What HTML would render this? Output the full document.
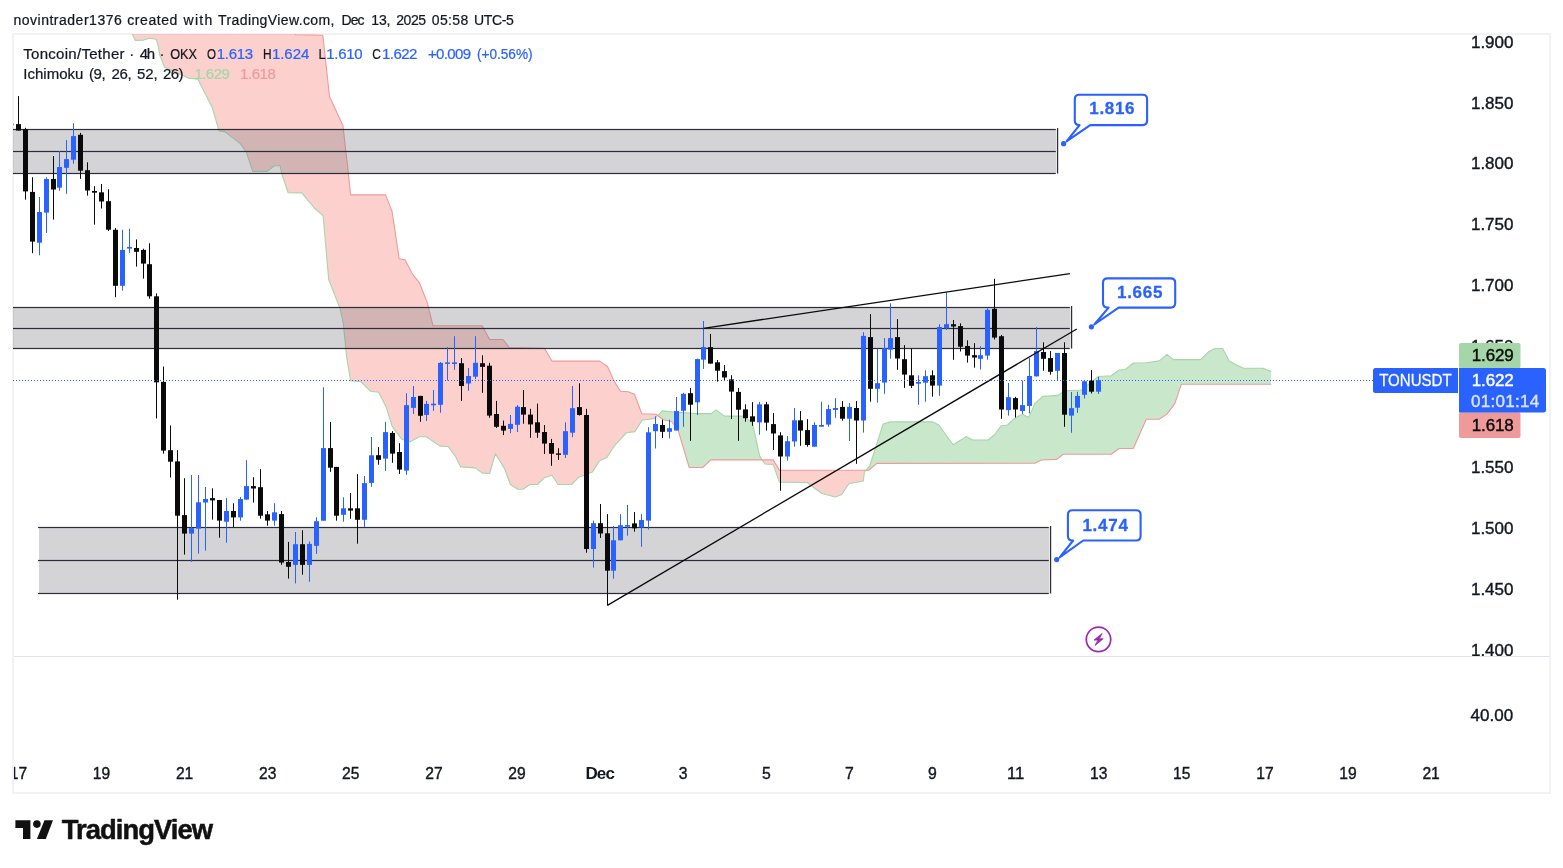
<!DOCTYPE html>
<html lang="en">
<head>
<meta charset="utf-8">
<title>TONUSDT chart</title>
<style>
html,body{margin:0;padding:0;background:#fff;}
body{width:1563px;height:868px;overflow:hidden;font-family:"Liberation Sans",sans-serif;}
svg{display:block;}
</style>
</head>
<body>
<svg width="1563" height="868" viewBox="0 0 1563 868">
<defs>
<clipPath id="pane"><rect x="13" y="34" width="1446" height="622"/></clipPath>
<clipPath id="paneFull"><rect x="13" y="34" width="1536" height="622"/></clipPath>
<clipPath id="aboveA"><polygon points="130.5,-200.0 130.5,30.0 132.3,34.3 135.4,40.4 143.0,40.2 149.2,38.2 156.1,39.2 157.8,44.4 159.9,55.2 164.6,67.3 188.4,78.1 197.8,79.1 212.3,107.8 219.1,131.0 224.7,131.6 240.3,143.6 246.5,152.4 252.7,171.4 267.2,171.4 274.5,165.8 280.1,165.8 282.2,175.2 288.2,192.8 301.8,192.9 314.2,208.0 323.1,215.7 328.7,279.5 340.1,308.6 343.3,323.1 346.6,357.0 350.7,380.8 361.1,381.8 370.4,391.2 378.7,392.2 386.0,406.7 392.2,426.4 401.5,438.9 409.8,442.0 419.2,436.8 426.4,436.8 439.9,446.1 448.2,446.5 455.5,456.5 460.7,466.9 475.2,467.9 482.4,473.1 489.7,473.5 495.3,453.8 504.2,467.9 510.4,484.5 517.7,489.3 522.9,489.3 530.1,484.5 537.4,484.5 544.6,477.7 551.9,475.2 558.1,484.5 571.6,484.5 578.9,477.2 592.3,472.1 599.6,460.7 606.9,457.5 614.1,446.1 626.6,432.7 634.9,431.6 642.1,420.2 655.0,418.4 662.2,410.9 676.7,412.2 697.5,413.6 711.0,413.6 716.1,409.9 724.4,416.1 743.1,416.1 752.4,423.0 759.7,456.1 764.9,464.0 773.2,464.4 779.4,482.1 807.4,482.5 814.6,488.3 821.9,493.5 835.4,497.0 841.6,494.5 848.9,483.7 863.4,481.0 864.4,471.7 869.6,466.5 876.9,443.7 883.1,424.0 890.3,421.9 932.4,421.8 938.9,425.0 953.1,444.7 966.1,436.6 972.6,440.0 988.1,440.0 994.6,434.8 1001.1,425.7 1007.6,425.0 1014.1,418.7 1021.8,414.1 1028.8,417.4 1034.8,403.7 1042.6,396.4 1058.1,395.4 1064.6,390.7 1081.5,390.0 1098.3,376.5 1111.3,375.7 1119.1,370.0 1125.5,369.5 1133.3,363.0 1146.3,362.7 1159.2,360.9 1167.0,354.4 1173.5,359.6 1200.7,359.6 1208.5,351.8 1215.0,348.5 1222.7,348.5 1229.2,360.9 1237.0,365.3 1243.5,368.2 1262.9,368.2 1271.3,371.6 1271.3,-200.0"/></clipPath>
<clipPath id="belowA"><polygon points="130.5,1200.0 130.5,30.0 132.3,34.3 135.4,40.4 143.0,40.2 149.2,38.2 156.1,39.2 157.8,44.4 159.9,55.2 164.6,67.3 188.4,78.1 197.8,79.1 212.3,107.8 219.1,131.0 224.7,131.6 240.3,143.6 246.5,152.4 252.7,171.4 267.2,171.4 274.5,165.8 280.1,165.8 282.2,175.2 288.2,192.8 301.8,192.9 314.2,208.0 323.1,215.7 328.7,279.5 340.1,308.6 343.3,323.1 346.6,357.0 350.7,380.8 361.1,381.8 370.4,391.2 378.7,392.2 386.0,406.7 392.2,426.4 401.5,438.9 409.8,442.0 419.2,436.8 426.4,436.8 439.9,446.1 448.2,446.5 455.5,456.5 460.7,466.9 475.2,467.9 482.4,473.1 489.7,473.5 495.3,453.8 504.2,467.9 510.4,484.5 517.7,489.3 522.9,489.3 530.1,484.5 537.4,484.5 544.6,477.7 551.9,475.2 558.1,484.5 571.6,484.5 578.9,477.2 592.3,472.1 599.6,460.7 606.9,457.5 614.1,446.1 626.6,432.7 634.9,431.6 642.1,420.2 655.0,418.4 662.2,410.9 676.7,412.2 697.5,413.6 711.0,413.6 716.1,409.9 724.4,416.1 743.1,416.1 752.4,423.0 759.7,456.1 764.9,464.0 773.2,464.4 779.4,482.1 807.4,482.5 814.6,488.3 821.9,493.5 835.4,497.0 841.6,494.5 848.9,483.7 863.4,481.0 864.4,471.7 869.6,466.5 876.9,443.7 883.1,424.0 890.3,421.9 932.4,421.8 938.9,425.0 953.1,444.7 966.1,436.6 972.6,440.0 988.1,440.0 994.6,434.8 1001.1,425.7 1007.6,425.0 1014.1,418.7 1021.8,414.1 1028.8,417.4 1034.8,403.7 1042.6,396.4 1058.1,395.4 1064.6,390.7 1081.5,390.0 1098.3,376.5 1111.3,375.7 1119.1,370.0 1125.5,369.5 1133.3,363.0 1146.3,362.7 1159.2,360.9 1167.0,354.4 1173.5,359.6 1200.7,359.6 1208.5,351.8 1215.0,348.5 1222.7,348.5 1229.2,360.9 1237.0,365.3 1243.5,368.2 1262.9,368.2 1271.3,371.6 1271.3,1200.0"/></clipPath>
</defs>
<rect x="0" y="0" width="1563" height="868" fill="#ffffff"/>
<g id="frame" fill="#f2f2f3">
<rect x="12" y="33" width="1539" height="2"/>
<rect x="12" y="792" width="1539" height="2"/>
<rect x="12" y="33" width="2" height="761"/>
<rect x="1549" y="33" width="2" height="761"/>
</g>
<rect x="14" y="656" width="1535" height="1" fill="#e0e3eb"/>
<g id="plot" clip-path="url(#pane)">
<g id="cloud">
<g clip-path="url(#belowA)"><polygon points="100.0,-40.0 291.0,-40.0 295.2,34.6 322.8,35.2 329.5,96.4 342.9,125.4 348.1,171.0 350.6,194.9 385.6,194.9 392.0,211.1 399.2,258.8 405.0,259.8 412.7,274.4 419.4,282.7 427.2,302.4 433.0,325.8 482.2,325.8 489.6,339.5 503.0,339.5 509.3,347.6 544.5,348.2 551.9,361.1 599.6,361.1 607.5,366.5 613.8,380.6 620.5,391.3 628.3,391.8 634.5,394.3 641.8,413.8 656.0,414.2 663.3,419.8 671.5,421.5 677.8,429.2 689.2,467.5 702.7,467.5 711.0,459.9 773.2,459.9 779.4,470.2 868.6,470.2 876.9,463.4 1034.8,463.3 1041.3,460.0 1056.8,459.4 1063.3,454.2 1111.3,454.2 1119.1,448.5 1133.3,448.5 1146.3,419.2 1159.2,419.2 1167.0,414.1 1174.8,403.7 1181.3,384.3 1271.3,384.3 1271.3,-200.0 100.0,-200.0" fill="#4caf50" fill-opacity="0.3"/></g>
<g clip-path="url(#aboveA)"><polygon points="100.0,-40.0 291.0,-40.0 295.2,34.6 322.8,35.2 329.5,96.4 342.9,125.4 348.1,171.0 350.6,194.9 385.6,194.9 392.0,211.1 399.2,258.8 405.0,259.8 412.7,274.4 419.4,282.7 427.2,302.4 433.0,325.8 482.2,325.8 489.6,339.5 503.0,339.5 509.3,347.6 544.5,348.2 551.9,361.1 599.6,361.1 607.5,366.5 613.8,380.6 620.5,391.3 628.3,391.8 634.5,394.3 641.8,413.8 656.0,414.2 663.3,419.8 671.5,421.5 677.8,429.2 689.2,467.5 702.7,467.5 711.0,459.9 773.2,459.9 779.4,470.2 868.6,470.2 876.9,463.4 1034.8,463.3 1041.3,460.0 1056.8,459.4 1063.3,454.2 1111.3,454.2 1119.1,448.5 1133.3,448.5 1146.3,419.2 1159.2,419.2 1167.0,414.1 1174.8,403.7 1181.3,384.3 1271.3,384.3 1271.3,1200.0 100.0,1200.0" fill="#f44336" fill-opacity="0.25"/></g>
<polyline points="130.5,30.0 132.3,34.3 135.4,40.4 143.0,40.2 149.2,38.2 156.1,39.2 157.8,44.4 159.9,55.2 164.6,67.3 188.4,78.1 197.8,79.1 212.3,107.8 219.1,131.0 224.7,131.6 240.3,143.6 246.5,152.4 252.7,171.4 267.2,171.4 274.5,165.8 280.1,165.8 282.2,175.2 288.2,192.8 301.8,192.9 314.2,208.0 323.1,215.7 328.7,279.5 340.1,308.6 343.3,323.1 346.6,357.0 350.7,380.8 361.1,381.8 370.4,391.2 378.7,392.2 386.0,406.7 392.2,426.4 401.5,438.9 409.8,442.0 419.2,436.8 426.4,436.8 439.9,446.1 448.2,446.5 455.5,456.5 460.7,466.9 475.2,467.9 482.4,473.1 489.7,473.5 495.3,453.8 504.2,467.9 510.4,484.5 517.7,489.3 522.9,489.3 530.1,484.5 537.4,484.5 544.6,477.7 551.9,475.2 558.1,484.5 571.6,484.5 578.9,477.2 592.3,472.1 599.6,460.7 606.9,457.5 614.1,446.1 626.6,432.7 634.9,431.6 642.1,420.2 655.0,418.4 662.2,410.9 676.7,412.2 697.5,413.6 711.0,413.6 716.1,409.9 724.4,416.1 743.1,416.1 752.4,423.0 759.7,456.1 764.9,464.0 773.2,464.4 779.4,482.1 807.4,482.5 814.6,488.3 821.9,493.5 835.4,497.0 841.6,494.5 848.9,483.7 863.4,481.0 864.4,471.7 869.6,466.5 876.9,443.7 883.1,424.0 890.3,421.9 932.4,421.8 938.9,425.0 953.1,444.7 966.1,436.6 972.6,440.0 988.1,440.0 994.6,434.8 1001.1,425.7 1007.6,425.0 1014.1,418.7 1021.8,414.1 1028.8,417.4 1034.8,403.7 1042.6,396.4 1058.1,395.4 1064.6,390.7 1081.5,390.0 1098.3,376.5 1111.3,375.7 1119.1,370.0 1125.5,369.5 1133.3,363.0 1146.3,362.7 1159.2,360.9 1167.0,354.4 1173.5,359.6 1200.7,359.6 1208.5,351.8 1215.0,348.5 1222.7,348.5 1229.2,360.9 1237.0,365.3 1243.5,368.2 1262.9,368.2 1271.3,371.6" fill="none" stroke="#a5d6a7" stroke-width="1.1" stroke-linejoin="round"/>
<polyline points="100.0,-40.0 291.0,-40.0 295.2,34.6 322.8,35.2 329.5,96.4 342.9,125.4 348.1,171.0 350.6,194.9 385.6,194.9 392.0,211.1 399.2,258.8 405.0,259.8 412.7,274.4 419.4,282.7 427.2,302.4 433.0,325.8 482.2,325.8 489.6,339.5 503.0,339.5 509.3,347.6 544.5,348.2 551.9,361.1 599.6,361.1 607.5,366.5 613.8,380.6 620.5,391.3 628.3,391.8 634.5,394.3 641.8,413.8 656.0,414.2 663.3,419.8 671.5,421.5 677.8,429.2 689.2,467.5 702.7,467.5 711.0,459.9 773.2,459.9 779.4,470.2 868.6,470.2 876.9,463.4 1034.8,463.3 1041.3,460.0 1056.8,459.4 1063.3,454.2 1111.3,454.2 1119.1,448.5 1133.3,448.5 1146.3,419.2 1159.2,419.2 1167.0,414.1 1174.8,403.7 1181.3,384.3 1271.3,384.3" fill="none" stroke="#ef9a9a" stroke-width="1.1" stroke-linejoin="round"/>
</g>
<g id="zones">
<rect x="1" y="129" width="1055.5" height="44" fill="#7d7d83" fill-opacity="0.33"/>
<rect x="0" y="128.90" width="1055.8" height="1.2" fill="#2a2e39"/>
<rect x="0" y="150.90" width="1055.8" height="1.2" fill="#2a2e39"/>
<rect x="0" y="172.90" width="1055.8" height="1.2" fill="#2a2e39"/>
<rect x="1057" y="128" width="1.2" height="45.5" fill="#2a2e39"/>
<rect x="1" y="307" width="1069.5" height="41" fill="#7d7d83" fill-opacity="0.33"/>
<rect x="0" y="306.90" width="1069.8" height="1.2" fill="#2a2e39"/>
<rect x="0" y="327.90" width="1069.8" height="1.2" fill="#2a2e39"/>
<rect x="0" y="347.90" width="1069.8" height="1.2" fill="#2a2e39"/>
<rect x="1071" y="306" width="1.2" height="42.5" fill="#2a2e39"/>
<rect x="39" y="527" width="1010.5" height="66" fill="#7d7d83" fill-opacity="0.33"/>
<rect x="38" y="526.90" width="1010.8" height="1.2" fill="#2a2e39"/>
<rect x="38" y="559.90" width="1010.8" height="1.2" fill="#2a2e39"/>
<rect x="38" y="592.90" width="1010.8" height="1.2" fill="#2a2e39"/>
<rect x="1050" y="526" width="1.2" height="67.5" fill="#2a2e39"/>
</g>
<g id="candles">
<rect x="13" y="123.6" width="1" height="1.6" fill="#2962ff" fill-opacity="0.7"/>
<rect x="18" y="96.1" width="1" height="34.5" fill="#0a0a0a"/><rect x="16" y="124.1" width="5" height="6.5" fill="#0a0a0a"/>
<rect x="25" y="127.8" width="1" height="71.9" fill="#0a0a0a"/><rect x="23" y="129.1" width="5" height="62.3" fill="#0a0a0a"/>
<rect x="32" y="177.2" width="1" height="76.0" fill="#0a0a0a"/><rect x="30" y="191.9" width="5" height="49.7" fill="#0a0a0a"/>
<rect x="39" y="197.0" width="1" height="58.3" fill="#2962ff"/><rect x="37" y="212.0" width="5" height="30.7" fill="#2962ff"/>
<rect x="46" y="177.2" width="1" height="55.7" fill="#2962ff"/><rect x="44" y="179.0" width="5" height="33.6" fill="#2962ff"/>
<rect x="53" y="156.0" width="1" height="63.6" fill="#0a0a0a"/><rect x="51" y="179.0" width="5" height="10.5" fill="#0a0a0a"/>
<rect x="59" y="151.2" width="1" height="39.6" fill="#2962ff"/><rect x="57" y="167.0" width="5" height="20.7" fill="#2962ff"/>
<rect x="66" y="140.1" width="1" height="53.7" fill="#2962ff"/><rect x="64" y="159.1" width="5" height="8.7" fill="#2962ff"/>
<rect x="73" y="123.2" width="1" height="40.5" fill="#2962ff"/><rect x="71" y="136.1" width="5" height="23.6" fill="#2962ff"/>
<rect x="80" y="132.9" width="1" height="45.9" fill="#0a0a0a"/><rect x="78" y="134.8" width="5" height="35.9" fill="#0a0a0a"/>
<rect x="87" y="162.3" width="1" height="33.3" fill="#0a0a0a"/><rect x="85" y="170.2" width="5" height="20.3" fill="#0a0a0a"/>
<rect x="94" y="186.2" width="1" height="38.4" fill="#0a0a0a"/><rect x="92" y="191.0" width="5" height="1.7" fill="#0a0a0a"/>
<rect x="101" y="184.0" width="1" height="24.5" fill="#0a0a0a"/><rect x="99" y="192.3" width="5" height="9.2" fill="#0a0a0a"/>
<rect x="108" y="189.2" width="1" height="41.8" fill="#0a0a0a"/><rect x="106" y="201.2" width="5" height="28.5" fill="#0a0a0a"/>
<rect x="115" y="228.0" width="1" height="69.2" fill="#0a0a0a"/><rect x="113" y="229.8" width="5" height="56.0" fill="#0a0a0a"/>
<rect x="122" y="229.8" width="1" height="60.8" fill="#2962ff"/><rect x="120" y="249.9" width="5" height="35.9" fill="#2962ff"/>
<rect x="129" y="228.9" width="1" height="24.0" fill="#2962ff"/><rect x="127" y="246.9" width="5" height="1.7" fill="#2962ff"/>
<rect x="136" y="239.4" width="1" height="27.2" fill="#0a0a0a"/><rect x="134" y="248.0" width="5" height="3.8" fill="#0a0a0a"/>
<rect x="143" y="248.7" width="1" height="29.9" fill="#0a0a0a"/><rect x="141" y="249.9" width="5" height="13.7" fill="#0a0a0a"/>
<rect x="149" y="243.3" width="1" height="55.4" fill="#0a0a0a"/><rect x="147" y="264.2" width="5" height="32.1" fill="#0a0a0a"/>
<rect x="156" y="293.3" width="1" height="125.1" fill="#0a0a0a"/><rect x="154" y="296.3" width="5" height="86.0" fill="#0a0a0a"/>
<rect x="163" y="366.5" width="1" height="87.1" fill="#0a0a0a"/><rect x="161" y="381.9" width="5" height="68.7" fill="#0a0a0a"/>
<rect x="170" y="425.5" width="1" height="52.0" fill="#0a0a0a"/><rect x="168" y="450.2" width="5" height="11.5" fill="#0a0a0a"/>
<rect x="177" y="450.2" width="1" height="149.5" fill="#0a0a0a"/><rect x="175" y="461.4" width="5" height="54.3" fill="#0a0a0a"/>
<rect x="184" y="478.2" width="1" height="76.4" fill="#0a0a0a"/><rect x="182" y="515.1" width="5" height="18.5" fill="#0a0a0a"/>
<rect x="191" y="475.0" width="1" height="86.8" fill="#2962ff"/><rect x="189" y="528.1" width="5" height="5.5" fill="#2962ff"/>
<rect x="198" y="475.0" width="1" height="78.6" fill="#2962ff"/><rect x="196" y="502.3" width="5" height="26.3" fill="#2962ff"/>
<rect x="205" y="487.0" width="1" height="63.6" fill="#2962ff"/><rect x="203" y="499.0" width="5" height="3.5" fill="#2962ff"/>
<rect x="212" y="488.3" width="1" height="31.3" fill="#0a0a0a"/><rect x="210" y="498.1" width="5" height="2.3" fill="#0a0a0a"/>
<rect x="219" y="499.9" width="1" height="37.8" fill="#0a0a0a"/><rect x="217" y="500.0" width="5" height="20.6" fill="#0a0a0a"/>
<rect x="226" y="498.1" width="1" height="44.6" fill="#2962ff"/><rect x="224" y="511.0" width="5" height="10.7" fill="#2962ff"/>
<rect x="233" y="503.3" width="1" height="23.7" fill="#0a0a0a"/><rect x="231" y="511.0" width="5" height="6.4" fill="#0a0a0a"/>
<rect x="240" y="497.1" width="1" height="23.6" fill="#2962ff"/><rect x="238" y="499.0" width="5" height="18.4" fill="#2962ff"/>
<rect x="246" y="460.2" width="1" height="39.4" fill="#2962ff"/><rect x="244" y="486.1" width="5" height="13.5" fill="#2962ff"/>
<rect x="253" y="477.2" width="1" height="25.3" fill="#0a0a0a"/><rect x="251" y="486.1" width="5" height="2.4" fill="#0a0a0a"/>
<rect x="260" y="469.1" width="1" height="49.6" fill="#0a0a0a"/><rect x="258" y="487.2" width="5" height="28.5" fill="#0a0a0a"/>
<rect x="267" y="511.0" width="1" height="14.7" fill="#0a0a0a"/><rect x="265" y="514.3" width="5" height="6.3" fill="#0a0a0a"/>
<rect x="274" y="503.2" width="1" height="22.5" fill="#2962ff"/><rect x="272" y="512.3" width="5" height="8.3" fill="#2962ff"/>
<rect x="281" y="511.0" width="1" height="53.8" fill="#0a0a0a"/><rect x="279" y="514.1" width="5" height="48.5" fill="#0a0a0a"/>
<rect x="288" y="541.9" width="1" height="36.7" fill="#0a0a0a"/><rect x="286" y="562.0" width="5" height="4.8" fill="#0a0a0a"/>
<rect x="295" y="532.0" width="1" height="51.4" fill="#2962ff"/><rect x="293" y="544.2" width="5" height="20.7" fill="#2962ff"/>
<rect x="302" y="530.2" width="1" height="44.5" fill="#0a0a0a"/><rect x="300" y="544.2" width="5" height="20.7" fill="#0a0a0a"/>
<rect x="309" y="541.5" width="1" height="40.2" fill="#2962ff"/><rect x="307" y="543.9" width="5" height="21.0" fill="#2962ff"/>
<rect x="316" y="517.2" width="1" height="36.7" fill="#2962ff"/><rect x="314" y="521.2" width="5" height="24.6" fill="#2962ff"/>
<rect x="323" y="387.3" width="1" height="133.4" fill="#2962ff"/><rect x="321" y="448.1" width="5" height="72.6" fill="#2962ff"/>
<rect x="330" y="421.9" width="1" height="49.9" fill="#0a0a0a"/><rect x="328" y="448.1" width="5" height="19.6" fill="#0a0a0a"/>
<rect x="336" y="466.9" width="1" height="53.8" fill="#0a0a0a"/><rect x="334" y="466.9" width="5" height="48.8" fill="#0a0a0a"/>
<rect x="343" y="497.3" width="1" height="24.3" fill="#2962ff"/><rect x="341" y="508.3" width="5" height="6.5" fill="#2962ff"/>
<rect x="350" y="493.0" width="1" height="25.8" fill="#0a0a0a"/><rect x="348" y="508.3" width="5" height="2.3" fill="#0a0a0a"/>
<rect x="357" y="474.2" width="1" height="69.5" fill="#0a0a0a"/><rect x="355" y="508.3" width="5" height="11.5" fill="#0a0a0a"/>
<rect x="364" y="476.1" width="1" height="50.7" fill="#2962ff"/><rect x="362" y="483.1" width="5" height="36.7" fill="#2962ff"/>
<rect x="371" y="437.0" width="1" height="49.8" fill="#2962ff"/><rect x="369" y="455.3" width="5" height="27.6" fill="#2962ff"/>
<rect x="378" y="447.1" width="1" height="17.6" fill="#0a0a0a"/><rect x="376" y="455.2" width="5" height="4.6" fill="#0a0a0a"/>
<rect x="385" y="421.9" width="1" height="49.0" fill="#2962ff"/><rect x="383" y="432.1" width="5" height="26.5" fill="#2962ff"/>
<rect x="392" y="431.1" width="1" height="31.7" fill="#0a0a0a"/><rect x="390" y="432.9" width="5" height="20.7" fill="#0a0a0a"/>
<rect x="399" y="443.2" width="1" height="30.7" fill="#0a0a0a"/><rect x="397" y="452.0" width="5" height="17.6" fill="#0a0a0a"/>
<rect x="406" y="393.2" width="1" height="81.6" fill="#2962ff"/><rect x="404" y="405.2" width="5" height="65.4" fill="#2962ff"/>
<rect x="413" y="386.0" width="1" height="28.0" fill="#2962ff"/><rect x="411" y="397.0" width="5" height="10.9" fill="#2962ff"/>
<rect x="420" y="395.9" width="1" height="25.9" fill="#0a0a0a"/><rect x="418" y="395.9" width="5" height="19.9" fill="#0a0a0a"/>
<rect x="426" y="400.8" width="1" height="20.2" fill="#2962ff"/><rect x="424" y="403.9" width="5" height="11.0" fill="#2962ff"/>
<rect x="433" y="390.0" width="1" height="20.9" fill="#2962ff"/><rect x="431" y="403.7" width="5" height="1.6" fill="#2962ff"/>
<rect x="440" y="362.0" width="1" height="50.8" fill="#2962ff"/><rect x="438" y="362.9" width="5" height="41.9" fill="#2962ff"/>
<rect x="447" y="347.1" width="1" height="33.4" fill="#2962ff"/><rect x="445" y="362.4" width="5" height="1.5" fill="#2962ff"/>
<rect x="454" y="336.2" width="1" height="33.6" fill="#2962ff"/><rect x="452" y="362.4" width="5" height="1.6" fill="#2962ff"/>
<rect x="461" y="358.0" width="1" height="42.9" fill="#0a0a0a"/><rect x="459" y="363.2" width="5" height="22.8" fill="#0a0a0a"/>
<rect x="468" y="368.0" width="1" height="22.8" fill="#2962ff"/><rect x="466" y="376.0" width="5" height="7.5" fill="#2962ff"/>
<rect x="475" y="336.2" width="1" height="42.9" fill="#2962ff"/><rect x="473" y="362.8" width="5" height="13.9" fill="#2962ff"/>
<rect x="482" y="355.3" width="1" height="37.5" fill="#0a0a0a"/><rect x="480" y="363.2" width="5" height="3.7" fill="#0a0a0a"/>
<rect x="489" y="362.8" width="1" height="54.9" fill="#0a0a0a"/><rect x="487" y="365.7" width="5" height="49.9" fill="#0a0a0a"/>
<rect x="496" y="400.9" width="1" height="27.0" fill="#0a0a0a"/><rect x="494" y="414.0" width="5" height="12.8" fill="#0a0a0a"/>
<rect x="503" y="420.6" width="1" height="14.5" fill="#0a0a0a"/><rect x="501" y="425.8" width="5" height="4.8" fill="#0a0a0a"/>
<rect x="510" y="415.0" width="1" height="18.1" fill="#2962ff"/><rect x="508" y="423.9" width="5" height="5.0" fill="#2962ff"/>
<rect x="517" y="405.1" width="1" height="26.9" fill="#2962ff"/><rect x="515" y="406.7" width="5" height="18.1" fill="#2962ff"/>
<rect x="523" y="390.1" width="1" height="33.6" fill="#0a0a0a"/><rect x="521" y="407.1" width="5" height="7.5" fill="#0a0a0a"/>
<rect x="530" y="408.8" width="1" height="29.0" fill="#0a0a0a"/><rect x="528" y="414.6" width="5" height="9.8" fill="#0a0a0a"/>
<rect x="537" y="403.6" width="1" height="34.2" fill="#0a0a0a"/><rect x="535" y="422.3" width="5" height="10.4" fill="#0a0a0a"/>
<rect x="544" y="425.0" width="1" height="29.0" fill="#0a0a0a"/><rect x="542" y="432.0" width="5" height="11.6" fill="#0a0a0a"/>
<rect x="551" y="438.9" width="1" height="26.9" fill="#0a0a0a"/><rect x="549" y="443.0" width="5" height="10.8" fill="#0a0a0a"/>
<rect x="558" y="448.2" width="1" height="11.8" fill="#0a0a0a"/><rect x="556" y="453.4" width="5" height="1.4" fill="#0a0a0a"/>
<rect x="565" y="422.3" width="1" height="35.7" fill="#2962ff"/><rect x="563" y="431.2" width="5" height="23.6" fill="#2962ff"/>
<rect x="572" y="386.0" width="1" height="51.2" fill="#2962ff"/><rect x="570" y="408.2" width="5" height="24.5" fill="#2962ff"/>
<rect x="579" y="383.3" width="1" height="32.3" fill="#0a0a0a"/><rect x="577" y="407.1" width="5" height="7.9" fill="#0a0a0a"/>
<rect x="586" y="408.8" width="1" height="143.9" fill="#0a0a0a"/><rect x="584" y="415.0" width="5" height="134.0" fill="#0a0a0a"/>
<rect x="593" y="520.6" width="1" height="47.0" fill="#2962ff"/><rect x="591" y="523.2" width="5" height="25.8" fill="#2962ff"/>
<rect x="600" y="504.0" width="1" height="33.9" fill="#0a0a0a"/><rect x="598" y="523.2" width="5" height="10.3" fill="#0a0a0a"/>
<rect x="607" y="514.1" width="1" height="91.3" fill="#0a0a0a"/><rect x="605" y="533.3" width="5" height="37.4" fill="#0a0a0a"/>
<rect x="613" y="526.1" width="1" height="52.6" fill="#2962ff"/><rect x="611" y="540.3" width="5" height="30.4" fill="#2962ff"/>
<rect x="620" y="514.1" width="1" height="26.2" fill="#2962ff"/><rect x="618" y="525.2" width="5" height="15.1" fill="#2962ff"/>
<rect x="627" y="504.9" width="1" height="30.8" fill="#2962ff"/><rect x="625" y="525.1" width="5" height="1.6" fill="#2962ff"/>
<rect x="634" y="512.1" width="1" height="19.6" fill="#0a0a0a"/><rect x="632" y="523.4" width="5" height="4.9" fill="#0a0a0a"/>
<rect x="641" y="514.1" width="1" height="32.7" fill="#2962ff"/><rect x="639" y="520.0" width="5" height="7.4" fill="#2962ff"/>
<rect x="648" y="427.1" width="1" height="102.5" fill="#2962ff"/><rect x="646" y="432.3" width="5" height="88.3" fill="#2962ff"/>
<rect x="655" y="416.3" width="1" height="32.2" fill="#2962ff"/><rect x="653" y="424.0" width="5" height="7.2" fill="#2962ff"/>
<rect x="662" y="419.7" width="1" height="18.3" fill="#0a0a0a"/><rect x="660" y="425.0" width="5" height="6.8" fill="#0a0a0a"/>
<rect x="669" y="419.7" width="1" height="18.7" fill="#2962ff"/><rect x="667" y="428.2" width="5" height="3.6" fill="#2962ff"/>
<rect x="676" y="397.0" width="1" height="33.5" fill="#2962ff"/><rect x="674" y="411.1" width="5" height="19.4" fill="#2962ff"/>
<rect x="683" y="392.8" width="1" height="34.0" fill="#2962ff"/><rect x="681" y="393.8" width="5" height="17.0" fill="#2962ff"/>
<rect x="690" y="388.1" width="1" height="52.7" fill="#0a0a0a"/><rect x="688" y="393.2" width="5" height="11.5" fill="#0a0a0a"/>
<rect x="697" y="358.6" width="1" height="56.4" fill="#2962ff"/><rect x="695" y="359.1" width="5" height="43.2" fill="#2962ff"/>
<rect x="703" y="321.0" width="1" height="47.9" fill="#2962ff"/><rect x="701" y="347.1" width="5" height="12.6" fill="#2962ff"/>
<rect x="710" y="333.9" width="1" height="29.7" fill="#0a0a0a"/><rect x="708" y="347.1" width="5" height="16.5" fill="#0a0a0a"/>
<rect x="717" y="360.0" width="1" height="21.6" fill="#0a0a0a"/><rect x="715" y="362.3" width="5" height="8.4" fill="#0a0a0a"/>
<rect x="724" y="365.0" width="1" height="15.2" fill="#0a0a0a"/><rect x="722" y="371.1" width="5" height="6.4" fill="#0a0a0a"/>
<rect x="731" y="375.2" width="1" height="43.8" fill="#0a0a0a"/><rect x="729" y="379.4" width="5" height="12.2" fill="#0a0a0a"/>
<rect x="738" y="388.1" width="1" height="52.7" fill="#0a0a0a"/><rect x="736" y="391.9" width="5" height="17.8" fill="#0a0a0a"/>
<rect x="745" y="404.3" width="1" height="17.4" fill="#0a0a0a"/><rect x="743" y="409.4" width="5" height="8.8" fill="#0a0a0a"/>
<rect x="752" y="402.1" width="1" height="23.7" fill="#0a0a0a"/><rect x="750" y="416.3" width="5" height="5.4" fill="#0a0a0a"/>
<rect x="759" y="401.9" width="1" height="32.8" fill="#2962ff"/><rect x="757" y="404.3" width="5" height="18.1" fill="#2962ff"/>
<rect x="766" y="401.9" width="1" height="28.7" fill="#0a0a0a"/><rect x="764" y="404.3" width="5" height="18.3" fill="#0a0a0a"/>
<rect x="773" y="413.1" width="1" height="36.8" fill="#0a0a0a"/><rect x="771" y="424.1" width="5" height="9.4" fill="#0a0a0a"/>
<rect x="780" y="432.1" width="1" height="58.7" fill="#0a0a0a"/><rect x="778" y="435.4" width="5" height="21.1" fill="#0a0a0a"/>
<rect x="787" y="436.1" width="1" height="24.6" fill="#2962ff"/><rect x="785" y="441.2" width="5" height="15.3" fill="#2962ff"/>
<rect x="794" y="408.0" width="1" height="38.7" fill="#2962ff"/><rect x="792" y="420.3" width="5" height="21.2" fill="#2962ff"/>
<rect x="800" y="411.1" width="1" height="34.7" fill="#0a0a0a"/><rect x="798" y="420.3" width="5" height="10.3" fill="#0a0a0a"/>
<rect x="807" y="419.1" width="1" height="27.6" fill="#0a0a0a"/><rect x="805" y="430.1" width="5" height="14.9" fill="#0a0a0a"/>
<rect x="814" y="422.2" width="1" height="24.5" fill="#2962ff"/><rect x="812" y="425.0" width="5" height="21.7" fill="#2962ff"/>
<rect x="821" y="401.8" width="1" height="24.9" fill="#2962ff"/><rect x="819" y="425.0" width="5" height="1.7" fill="#2962ff"/>
<rect x="828" y="404.9" width="1" height="21.8" fill="#2962ff"/><rect x="826" y="409.1" width="5" height="15.5" fill="#2962ff"/>
<rect x="835" y="398.1" width="1" height="19.7" fill="#2962ff"/><rect x="833" y="408.0" width="5" height="1.9" fill="#2962ff"/>
<rect x="842" y="401.1" width="1" height="19.6" fill="#0a0a0a"/><rect x="840" y="406.9" width="5" height="11.8" fill="#0a0a0a"/>
<rect x="849" y="403.0" width="1" height="38.0" fill="#2962ff"/><rect x="847" y="406.9" width="5" height="11.8" fill="#2962ff"/>
<rect x="856" y="401.1" width="1" height="62.7" fill="#0a0a0a"/><rect x="854" y="408.0" width="5" height="12.5" fill="#0a0a0a"/>
<rect x="863" y="332.2" width="1" height="100.4" fill="#2962ff"/><rect x="861" y="335.9" width="5" height="84.6" fill="#2962ff"/>
<rect x="870" y="314.1" width="1" height="87.6" fill="#0a0a0a"/><rect x="868" y="337.1" width="5" height="51.7" fill="#0a0a0a"/>
<rect x="877" y="348.6" width="1" height="54.0" fill="#2962ff"/><rect x="875" y="383.2" width="5" height="5.6" fill="#2962ff"/>
<rect x="884" y="338.1" width="1" height="55.7" fill="#2962ff"/><rect x="882" y="348.2" width="5" height="34.4" fill="#2962ff"/>
<rect x="890" y="303.4" width="1" height="55.3" fill="#2962ff"/><rect x="888" y="338.1" width="5" height="11.5" fill="#2962ff"/>
<rect x="897" y="319.1" width="1" height="50.7" fill="#0a0a0a"/><rect x="895" y="337.1" width="5" height="21.4" fill="#0a0a0a"/>
<rect x="904" y="345.1" width="1" height="42.8" fill="#0a0a0a"/><rect x="902" y="359.2" width="5" height="15.4" fill="#0a0a0a"/>
<rect x="911" y="348.5" width="1" height="39.5" fill="#0a0a0a"/><rect x="909" y="375.3" width="5" height="10.5" fill="#0a0a0a"/>
<rect x="918" y="375.3" width="1" height="29.5" fill="#2962ff"/><rect x="916" y="382.0" width="5" height="1.7" fill="#2962ff"/>
<rect x="925" y="370.3" width="1" height="31.4" fill="#2962ff"/><rect x="923" y="376.2" width="5" height="6.5" fill="#2962ff"/>
<rect x="932" y="370.3" width="1" height="26.4" fill="#0a0a0a"/><rect x="930" y="375.3" width="5" height="10.3" fill="#0a0a0a"/>
<rect x="939" y="324.2" width="1" height="71.6" fill="#2962ff"/><rect x="937" y="327.0" width="5" height="58.6" fill="#2962ff"/>
<rect x="946" y="292.4" width="1" height="37.4" fill="#2962ff"/><rect x="944" y="324.2" width="5" height="4.1" fill="#2962ff"/>
<rect x="953" y="320.0" width="1" height="39.8" fill="#0a0a0a"/><rect x="951" y="324.2" width="5" height="2.3" fill="#0a0a0a"/>
<rect x="960" y="323.3" width="1" height="28.2" fill="#0a0a0a"/><rect x="958" y="326.1" width="5" height="20.6" fill="#0a0a0a"/>
<rect x="967" y="340.3" width="1" height="22.3" fill="#0a0a0a"/><rect x="965" y="346.0" width="5" height="9.6" fill="#0a0a0a"/>
<rect x="974" y="343.2" width="1" height="24.5" fill="#0a0a0a"/><rect x="972" y="355.2" width="5" height="2.3" fill="#0a0a0a"/>
<rect x="980" y="346.2" width="1" height="23.4" fill="#2962ff"/><rect x="978" y="355.2" width="5" height="3.6" fill="#2962ff"/>
<rect x="987" y="308.2" width="1" height="51.5" fill="#2962ff"/><rect x="985" y="309.8" width="5" height="45.8" fill="#2962ff"/>
<rect x="994" y="278.8" width="1" height="60.7" fill="#0a0a0a"/><rect x="992" y="308.8" width="5" height="28.8" fill="#0a0a0a"/>
<rect x="1001" y="334.9" width="1" height="83.9" fill="#0a0a0a"/><rect x="999" y="336.2" width="5" height="73.3" fill="#0a0a0a"/>
<rect x="1008" y="383.0" width="1" height="32.6" fill="#2962ff"/><rect x="1006" y="397.2" width="5" height="12.9" fill="#2962ff"/>
<rect x="1015" y="396.8" width="1" height="20.7" fill="#0a0a0a"/><rect x="1013" y="398.1" width="5" height="11.4" fill="#0a0a0a"/>
<rect x="1022" y="380.6" width="1" height="33.2" fill="#2962ff"/><rect x="1020" y="405.1" width="5" height="5.9" fill="#2962ff"/>
<rect x="1029" y="358.1" width="1" height="55.3" fill="#2962ff"/><rect x="1027" y="376.0" width="5" height="29.9" fill="#2962ff"/>
<rect x="1036" y="327.1" width="1" height="49.3" fill="#2962ff"/><rect x="1034" y="351.1" width="5" height="25.3" fill="#2962ff"/>
<rect x="1043" y="342.3" width="1" height="28.5" fill="#0a0a0a"/><rect x="1041" y="352.0" width="5" height="6.8" fill="#0a0a0a"/>
<rect x="1050" y="351.1" width="1" height="23.6" fill="#0a0a0a"/><rect x="1048" y="358.1" width="5" height="13.7" fill="#0a0a0a"/>
<rect x="1057" y="353.0" width="1" height="27.6" fill="#2962ff"/><rect x="1055" y="353.0" width="5" height="17.8" fill="#2962ff"/>
<rect x="1064" y="342.3" width="1" height="84.5" fill="#0a0a0a"/><rect x="1062" y="353.0" width="5" height="61.7" fill="#0a0a0a"/>
<rect x="1071" y="392.0" width="1" height="40.7" fill="#2962ff"/><rect x="1069" y="408.2" width="5" height="7.4" fill="#2962ff"/>
<rect x="1077" y="391.7" width="1" height="21.2" fill="#2962ff"/><rect x="1075" y="395.9" width="5" height="11.8" fill="#2962ff"/>
<rect x="1084" y="380.6" width="1" height="17.9" fill="#2962ff"/><rect x="1082" y="381.2" width="5" height="13.6" fill="#2962ff"/>
<rect x="1091" y="370.1" width="1" height="23.4" fill="#0a0a0a"/><rect x="1089" y="380.6" width="5" height="11.1" fill="#0a0a0a"/>
<rect x="1098" y="376.9" width="1" height="17.0" fill="#2962ff"/><rect x="1096" y="380.2" width="5" height="11.5" fill="#2962ff"/>
</g>
<g id="trend" stroke="#0a0a0a" stroke-width="1.3" stroke-linecap="butt">
<line x1="703.5" y1="328.3" x2="1069.9" y2="273.6"/>
<line x1="607.4" y1="605.4" x2="1076.8" y2="329"/>
</g>
</g>
<line x1="13" y1="380.5" x2="1373" y2="380.5" stroke="#2962ff" stroke-width="1" stroke-dasharray="1 2"/>
<g id="callouts" font-family="'Liberation Sans', sans-serif">
<g class="callout">
<path d="M1079.3 94.8 H1142.6 Q1147.1 94.8 1147.1 99.3 V120.6 Q1147.1 125.1 1142.6 125.1 H1090.2 L1066.5 141.4 L1079.6 125.1 H1079.3 Q1074.8 125.1 1074.8 120.6 V99.3 Q1074.8 94.8 1079.3 94.8 Z" fill="#ffffff" stroke="#2962ff" stroke-width="2.1" stroke-linejoin="round"/>
<circle cx="1063.6" cy="143.7" r="2.6" fill="#2962ff"/>
<text x="1089.3" y="114.1" textLength="45.2" lengthAdjust="spacing" font-size="17" font-weight="700" fill="#2962ff" stroke="#2962ff" stroke-width="0.3">1.816</text>
</g>
<g class="callout">
<path d="M1107.5 278.4 H1170.7 Q1175.2 278.4 1175.2 282.9 V303.1 Q1175.2 307.6 1170.7 307.6 H1118.6 L1094.3 324.5 L1108.6 307.6 H1107.5 Q1103.0 307.6 1103.0 303.1 V282.9 Q1103.0 278.4 1107.5 278.4 Z" fill="#ffffff" stroke="#2962ff" stroke-width="2.1" stroke-linejoin="round"/>
<circle cx="1091.4" cy="326.8" r="2.6" fill="#2962ff"/>
<text x="1117.0" y="297.7" textLength="45.4" lengthAdjust="spacing" font-size="17" font-weight="700" fill="#2962ff" stroke="#2962ff" stroke-width="0.3">1.665</text>
</g>
<g class="callout">
<path d="M1072.4 510.2 H1136.1 Q1140.6 510.2 1140.6 514.7 V536.0 Q1140.6 540.5 1136.1 540.5 H1083.2 L1059.6 557.3 L1073.2 540.5 H1072.4 Q1067.9 540.5 1067.9 536.0 V514.7 Q1067.9 510.2 1072.4 510.2 Z" fill="#ffffff" stroke="#2962ff" stroke-width="2.1" stroke-linejoin="round"/>
<circle cx="1056.7" cy="559.6" r="2.6" fill="#2962ff"/>
<text x="1082.4" y="530.5" textLength="45.6" lengthAdjust="spacing" font-size="17" font-weight="700" fill="#2962ff" stroke="#2962ff" stroke-width="0.3">1.474</text>
</g>
</g>
<g id="flash" transform="translate(1098.5 639.4)">
<circle cx="0" cy="0" r="12.2" fill="#ffffff" stroke="#9c27b0" stroke-width="1.7"/>
<polygon points="3.6,-6.0 -4.5,0.7 -0.5,0.7 -3.4,6.0 4.7,-0.6 0.8,-0.6" fill="#9c27b0" stroke="#9c27b0" stroke-width="0.8" stroke-linejoin="round"/>
</g>
<g id="texts" font-family="'Liberation Sans', sans-serif">
<text x="13.4" y="25" font-size="14" fill="#131722" stroke="#131722" stroke-width="0.22" textLength="108.4" lengthAdjust="spacing" >novintrader1376</text>
<text x="127.2" y="25" font-size="14" fill="#131722" stroke="#131722" stroke-width="0.22" textLength="50.2" lengthAdjust="spacing" >created</text>
<text x="183.6" y="25" font-size="14" fill="#131722" stroke="#131722" stroke-width="0.22" textLength="28.7" lengthAdjust="spacing" >with</text>
<text x="218.0" y="25" font-size="14" fill="#131722" stroke="#131722" stroke-width="0.22" textLength="116.5" lengthAdjust="spacing" >TradingView.com,</text>
<text x="341.6" y="25" font-size="14" fill="#131722" stroke="#131722" stroke-width="0.22" textLength="23.0" lengthAdjust="spacing" >Dec</text>
<text x="371.3" y="25" font-size="14" fill="#131722" stroke="#131722" stroke-width="0.22" textLength="19.2" lengthAdjust="spacing" >13,</text>
<text x="396.3" y="25" font-size="14" fill="#131722" stroke="#131722" stroke-width="0.22" textLength="29.7" lengthAdjust="spacing" >2025</text>
<text x="431.8" y="25" font-size="14" fill="#131722" stroke="#131722" stroke-width="0.22" textLength="36.5" lengthAdjust="spacing" >05:58</text>
<text x="474.0" y="25" font-size="14" fill="#131722" stroke="#131722" stroke-width="0.22" textLength="39.7" lengthAdjust="spacing" >UTC-5</text>
<text x="23.3" y="58.7" font-size="15" fill="#131722" stroke="#131722" stroke-width="0.22" textLength="101.2" lengthAdjust="spacing" >Toncoin/Tether</text>
<text x="131.7" y="58.7" font-size="15" fill="#131722" stroke="#131722" stroke-width="0.22" text-anchor="middle" >·</text>
<text x="139.7" y="58.7" font-size="15" fill="#131722" stroke="#131722" stroke-width="0.22" textLength="15.3" lengthAdjust="spacing" >4h</text>
<text x="162.1" y="58.7" font-size="15" fill="#131722" stroke="#131722" stroke-width="0.22" text-anchor="middle" >·</text>
<text x="170.2" y="58.7" font-size="15" fill="#131722" stroke="#131722" stroke-width="0.22" textLength="26.9" lengthAdjust="spacingAndGlyphs" >OKX</text>
<text x="206.9" y="58.7" font-size="15" fill="#131722" stroke="#131722" stroke-width="0.22" textLength="9.0" lengthAdjust="spacingAndGlyphs" >O</text>
<text x="216.8" y="58.7" font-size="15" fill="#2962ff" stroke="#2962ff" stroke-width="0.22" textLength="36.2" lengthAdjust="spacing" >1.613</text>
<text x="262.9" y="58.7" font-size="15" fill="#131722" stroke="#131722" stroke-width="0.22" textLength="8.6" lengthAdjust="spacingAndGlyphs" >H</text>
<text x="271.9" y="58.7" font-size="15" fill="#2962ff" stroke="#2962ff" stroke-width="0.22" textLength="37.4" lengthAdjust="spacing" >1.624</text>
<text x="318.5" y="58.7" font-size="15" fill="#131722" stroke="#131722" stroke-width="0.22" textLength="7.1" lengthAdjust="spacingAndGlyphs" >L</text>
<text x="326.2" y="58.7" font-size="15" fill="#2962ff" stroke="#2962ff" stroke-width="0.22" textLength="36.5" lengthAdjust="spacing" >1.610</text>
<text x="372.3" y="58.7" font-size="15" fill="#131722" stroke="#131722" stroke-width="0.22" textLength="8.6" lengthAdjust="spacingAndGlyphs" >C</text>
<text x="381.9" y="58.7" font-size="15" fill="#2962ff" stroke="#2962ff" stroke-width="0.22" textLength="35.5" lengthAdjust="spacing" >1.622</text>
<text x="427.9" y="58.7" font-size="15" fill="#2962ff" stroke="#2962ff" stroke-width="0.22" textLength="43.2" lengthAdjust="spacing" >+0.009</text>
<text x="476.9" y="58.7" font-size="15" fill="#2962ff" stroke="#2962ff" stroke-width="0.22" textLength="55.7" lengthAdjust="spacingAndGlyphs" >(+0.56%)</text>
<text x="23.3" y="79.4" font-size="15" fill="#131722" stroke="#131722" stroke-width="0.22" textLength="60.0" lengthAdjust="spacing" >Ichimoku</text>
<text x="89.0" y="79.4" font-size="15" fill="#131722" stroke="#131722" stroke-width="0.22" textLength="16.7" lengthAdjust="spacing" >(9,</text>
<text x="111.4" y="79.4" font-size="15" fill="#131722" stroke="#131722" stroke-width="0.22" textLength="20.3" lengthAdjust="spacing" >26,</text>
<text x="137.0" y="79.4" font-size="15" fill="#131722" stroke="#131722" stroke-width="0.22" textLength="20.6" lengthAdjust="spacing" >52,</text>
<text x="163.0" y="79.4" font-size="15" fill="#131722" stroke="#131722" stroke-width="0.22" textLength="20.6" lengthAdjust="spacing" >26)</text>
<text x="194.4" y="79.4" font-size="15" fill="#a5d6a7" stroke="#a5d6a7" stroke-width="0.22" textLength="35.4" lengthAdjust="spacing" >1.629</text>
<text x="240.0" y="79.4" font-size="15" fill="#ef9a9a" stroke="#ef9a9a" stroke-width="0.22" textLength="35.9" lengthAdjust="spacing" >1.618</text>
<text x="1471" y="47.7" font-size="17" fill="#131722" stroke="#131722" stroke-width="0.4" textLength="42.4" lengthAdjust="spacing" >1.900</text>
<text x="1471" y="108.5" font-size="17" fill="#131722" stroke="#131722" stroke-width="0.4" textLength="42.4" lengthAdjust="spacing" >1.850</text>
<text x="1471" y="169.3" font-size="17" fill="#131722" stroke="#131722" stroke-width="0.4" textLength="42.4" lengthAdjust="spacing" >1.800</text>
<text x="1471" y="230.1" font-size="17" fill="#131722" stroke="#131722" stroke-width="0.4" textLength="42.4" lengthAdjust="spacing" >1.750</text>
<text x="1471" y="290.9" font-size="17" fill="#131722" stroke="#131722" stroke-width="0.4" textLength="42.4" lengthAdjust="spacing" >1.700</text>
<text x="1471" y="351.7" font-size="17" fill="#131722" stroke="#131722" stroke-width="0.4" textLength="42.4" lengthAdjust="spacing" >1.650</text>
<text x="1471" y="473.3" font-size="17" fill="#131722" stroke="#131722" stroke-width="0.4" textLength="42.4" lengthAdjust="spacing" >1.550</text>
<text x="1471" y="534.1" font-size="17" fill="#131722" stroke="#131722" stroke-width="0.4" textLength="42.4" lengthAdjust="spacing" >1.500</text>
<text x="1471" y="594.9" font-size="17" fill="#131722" stroke="#131722" stroke-width="0.4" textLength="42.4" lengthAdjust="spacing" >1.450</text>
<text x="1471" y="655.7" font-size="17" fill="#131722" stroke="#131722" stroke-width="0.4" textLength="42.4" lengthAdjust="spacing" clip-path="url(#paneFull)">1.400</text>
<text x="1470.4" y="720.6" font-size="17" fill="#131722" stroke="#131722" stroke-width="0.4" textLength="42.8" lengthAdjust="spacing" >40.00</text>
<g clip-path="url(#paneX)">
<clipPath id="paneX"><rect x="14" y="657" width="1535" height="135"/></clipPath>
<text x="9.7" y="778.5" font-size="17" fill="#131722" stroke="#131722" stroke-width="0.4" textLength="17.4" lengthAdjust="spacingAndGlyphs" >17</text>
<text x="92.8" y="778.5" font-size="17" fill="#131722" stroke="#131722" stroke-width="0.4" textLength="17.4" lengthAdjust="spacingAndGlyphs" >19</text>
<text x="175.9" y="778.5" font-size="17" fill="#131722" stroke="#131722" stroke-width="0.4" textLength="17.4" lengthAdjust="spacingAndGlyphs" >21</text>
<text x="259.0" y="778.5" font-size="17" fill="#131722" stroke="#131722" stroke-width="0.4" textLength="17.4" lengthAdjust="spacingAndGlyphs" >23</text>
<text x="342.1" y="778.5" font-size="17" fill="#131722" stroke="#131722" stroke-width="0.4" textLength="17.4" lengthAdjust="spacingAndGlyphs" >25</text>
<text x="425.2" y="778.5" font-size="17" fill="#131722" stroke="#131722" stroke-width="0.4" textLength="17.4" lengthAdjust="spacingAndGlyphs" >27</text>
<text x="508.3" y="778.5" font-size="17" fill="#131722" stroke="#131722" stroke-width="0.4" textLength="17.4" lengthAdjust="spacingAndGlyphs" >29</text>
<text x="585.4" y="778.5" font-size="17" fill="#131722" textLength="29.5" lengthAdjust="spacing" font-weight="700" >Dec</text>
<text x="678.8" y="778.5" font-size="17" fill="#131722" stroke="#131722" stroke-width="0.4" textLength="8.8" lengthAdjust="spacingAndGlyphs" >3</text>
<text x="761.9" y="778.5" font-size="17" fill="#131722" stroke="#131722" stroke-width="0.4" textLength="8.8" lengthAdjust="spacingAndGlyphs" >5</text>
<text x="845.0" y="778.5" font-size="17" fill="#131722" stroke="#131722" stroke-width="0.4" textLength="8.8" lengthAdjust="spacingAndGlyphs" >7</text>
<text x="928.1" y="778.5" font-size="17" fill="#131722" stroke="#131722" stroke-width="0.4" textLength="8.8" lengthAdjust="spacingAndGlyphs" >9</text>
<text x="1006.9" y="778.5" font-size="17" fill="#131722" stroke="#131722" stroke-width="0.4" textLength="17.4" lengthAdjust="spacingAndGlyphs" >11</text>
<text x="1090.0" y="778.5" font-size="17" fill="#131722" stroke="#131722" stroke-width="0.4" textLength="17.4" lengthAdjust="spacingAndGlyphs" >13</text>
<text x="1173.1" y="778.5" font-size="17" fill="#131722" stroke="#131722" stroke-width="0.4" textLength="17.4" lengthAdjust="spacingAndGlyphs" >15</text>
<text x="1256.2" y="778.5" font-size="17" fill="#131722" stroke="#131722" stroke-width="0.4" textLength="17.4" lengthAdjust="spacingAndGlyphs" >17</text>
<text x="1339.3" y="778.5" font-size="17" fill="#131722" stroke="#131722" stroke-width="0.4" textLength="17.4" lengthAdjust="spacingAndGlyphs" >19</text>
<text x="1422.4" y="778.5" font-size="17" fill="#131722" stroke="#131722" stroke-width="0.4" textLength="17.4" lengthAdjust="spacingAndGlyphs" >21</text>
</g>
</g>
<g id="plabels" font-family="'Liberation Sans', sans-serif">
<rect x="1459" y="343" width="61.5" height="25.4" rx="2" fill="#a5d6a7"/>
<rect x="1459" y="412.2" width="61.5" height="25.7" rx="2" fill="#ef9a9a"/>
<path d="M1459 368 H1543.5 Q1546 368 1546 370.5 V410.1 Q1546 412.6 1543.5 412.6 H1459 Z" fill="#2962ff"/>
<path d="M1375.5 368 H1458 V393 H1375.5 Q1373 393 1373 390.5 V370.5 Q1373 368 1375.5 368 Z" fill="#2962ff"/>
<text x="1471.8" y="361.1" font-size="17" fill="#0a0a0a" stroke="#0a0a0a" stroke-width="0.4" textLength="41.9" lengthAdjust="spacing" >1.629</text>
<text x="1471.8" y="431.2" font-size="17" fill="#0a0a0a" stroke="#0a0a0a" stroke-width="0.4" textLength="41.9" lengthAdjust="spacing" >1.618</text>
<text x="1471.8" y="386.3" font-size="17" fill="#ffffff" stroke="#ffffff" stroke-width="0.4" textLength="41.9" lengthAdjust="spacing" >1.622</text>
<text x="1471.0" y="406.7" font-size="17" fill="#dbe4ff" stroke="#dbe4ff" stroke-width="0.4" textLength="68.2" lengthAdjust="spacing" >01:01:14</text>
<text x="1379.2" y="386.1" font-size="17" fill="#ffffff" stroke="#ffffff" stroke-width="0.3" textLength="72.4" lengthAdjust="spacingAndGlyphs" >TONUSDT</text>
</g>
<g id="logo" fill="#111111">
<path d="M15.4 820.3 H30.4 V839 H23 V828 H15.4 Z"/>
<circle cx="36.9" cy="824.1" r="3.8"/>
<path d="M44.5 820.3 H53 L45.8 839 H36.9 Z"/>
<text x="61.8" y="839" font-size="27.4" font-weight="700" stroke="#111111" stroke-width="0.5" textLength="151.2" lengthAdjust="spacing" font-family="'Liberation Sans', sans-serif">TradingView</text>
</g>
</svg>
</body>
</html>
